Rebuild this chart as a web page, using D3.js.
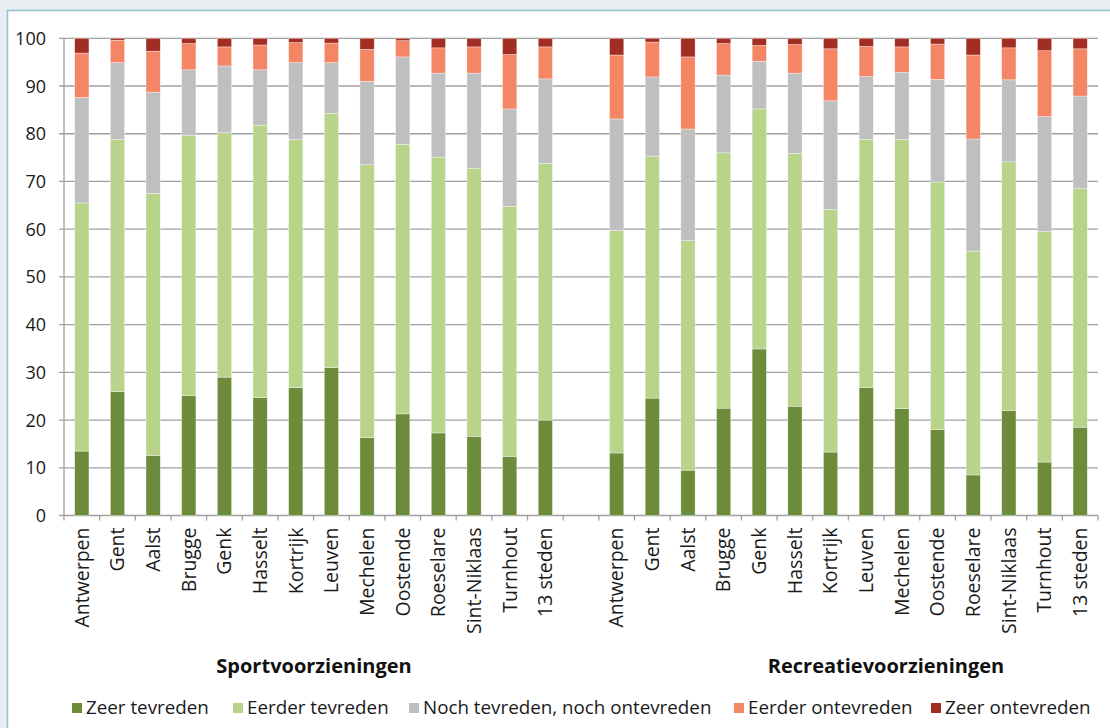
<!DOCTYPE html>
<html>
<head>
<meta charset="utf-8">
<script src="https://cdn.jsdelivr.net/npm/d3@7"></script>
<style>
  body { margin: 0; background: #e9eef2; }
  svg { display: block; font-family: "Open Sans", sans-serif; }
</style>
</head>
<body>
<svg id="chart" width="1110" height="728"></svg>
<script>
const cities = ["Antwerpen", "Gent", "Aalst", "Brugge", "Genk", "Hasselt", "Kortrijk",
  "Leuven", "Mechelen", "Oostende", "Roeselare", "Sint-Niklaas", "Turnhout", "13 steden"];

const groups = ["Sportvoorzieningen", "Recreatievoorzieningen"];

const seriesNames = ["Zeer tevreden", "Eerder tevreden", "Noch tevreden, noch ontevreden",
  "Eerder ontevreden", "Zeer ontevreden"];

const colors = ["#6d8c3b", "#b8d38a", "#bfbfbf", "#f48565", "#a22d22"];

// Sportvoorzieningen, per city (same order as cities)
const sportZeerTevreden   = [13.5, 26.0, 12.6, 25.1, 29.0, 24.7, 26.8, 31.0, 16.3, 21.3, 17.3, 16.6, 12.4, 20.0];
const sportEerderTevreden = [52.0, 52.8, 54.9, 54.6, 51.2, 57.1, 52.0, 53.3, 57.2, 56.5, 57.8, 56.1, 52.4, 53.8];
const sportNoch           = [22.1, 16.1, 21.2, 13.7, 14.0, 11.6, 16.1, 10.6, 17.5, 18.3, 17.6, 20.0, 20.4, 17.7];
const sportEerderOntevr   = [ 9.3,  4.7,  8.6,  5.5,  4.0,  5.2,  4.2,  4.1,  6.7,  3.4,  5.3,  5.5, 11.4,  6.7];
const sportZeerOntevr     = [ 3.1,  0.4,  2.7,  1.1,  1.8,  1.4,  0.9,  1.0,  2.3,  0.5,  2.0,  1.8,  3.4,  1.8];

// Recreatievoorzieningen
const recZeerTevreden   = [13.1, 24.6,  9.5, 22.5, 34.9, 22.9, 13.3, 26.8, 22.4, 18.0,  8.5, 22.0, 11.2, 18.5];
const recEerderTevreden = [46.6, 50.7, 48.1, 53.5, 50.3, 53.0, 50.8, 52.0, 56.4, 51.9, 46.9, 52.1, 48.3, 50.0];
const recNoch           = [23.4, 16.6, 23.4, 16.3, 10.0, 16.8, 22.8, 13.2, 14.1, 21.5, 23.5, 17.2, 24.1, 19.4];
const recEerderOntevr   = [13.4,  7.3, 15.1,  6.6,  3.3,  6.0, 10.9,  6.3,  5.3,  7.4, 17.6,  6.7, 13.8,  9.9];
const recZeerOntevr     = [ 3.5,  0.8,  3.9,  1.1,  1.5,  1.3,  2.2,  1.7,  1.8,  1.2,  3.5,  2.0,  2.6,  2.2];

const yTicks = [0, 10, 20, 30, 40, 50, 60, 70, 80, 90, 100];

const sportSeries = [sportZeerTevreden, sportEerderTevreden, sportNoch, sportEerderOntevr, sportZeerOntevr];
const recSeries = [recZeerTevreden, recEerderTevreden, recNoch, recEerderOntevr, recZeerOntevr];

// build rows: sport cities, an empty slot, recreation cities
const rows = [];
cities.forEach((c, i) => {
  const r = { key: "S|" + c, label: c };
  seriesNames.forEach((s, j) => r[s] = sportSeries[j][i]);
  rows.push(r);
});
const gapRow = { key: "gap", label: "" };
seriesNames.forEach(s => gapRow[s] = 0);
rows.push(gapRow);
cities.forEach((c, i) => {
  const r = { key: "R|" + c, label: c };
  seriesNames.forEach((s, j) => r[s] = recSeries[j][i]);
  rows.push(r);
});

const svg = d3.select("#chart");

// white panel with blue border
svg.append("rect")
  .attr("x", 7.5).attr("y", 10.5)
  .attr("width", 1130).attr("height", 740)
  .attr("fill", "#fff")
  .attr("stroke", "#93bfd2")
  .attr("stroke-width", 1.5);

const plotLeft = 64, plotRight = 1098, plotTop = 38.3, plotBottom = 515.5;

const x = d3.scaleBand()
  .domain(rows.map(d => d.key))
  .range([plotLeft, plotRight])
  .paddingInner(0.6)
  .paddingOuter(0.3);

const y = d3.scaleLinear().domain([0, 100]).range([plotBottom, plotTop]);

// gridlines
svg.append("g")
  .selectAll("line")
  .data(yTicks)
  .join("line")
  .attr("x1", plotLeft - 5)
  .attr("x2", plotRight)
  .attr("y1", d => y(d))
  .attr("y2", d => y(d))
  .attr("stroke", "#a0a0a0")
  .attr("stroke-width", 1.3);

// y axis line
svg.append("line")
  .attr("x1", plotLeft).attr("x2", plotLeft)
  .attr("y1", plotTop).attr("y2", plotBottom)
  .attr("stroke", "#a0a0a0")
  .attr("stroke-width", 1.3);

svg.append("g")
  .selectAll("text")
  .data(yTicks)
  .join("text")
  .attr("x", 46)
  .attr("y", d => y(d))
  .attr("dy", "0.36em")
  .attr("text-anchor", "end")
  .attr("font-size", 18)
  .attr("fill", "#1a1a1a")
  .text(d => d);

// x ticks at slot boundaries
const step = x.step();
const boundaries = d3.range(rows.length + 1).map(i => plotLeft + i * step);
svg.append("g")
  .selectAll("line")
  .data(boundaries)
  .join("line")
  .attr("x1", d => d).attr("x2", d => d)
  .attr("y1", plotBottom).attr("y2", plotBottom + 5)
  .attr("stroke", "#a0a0a0")
  .attr("stroke-width", 1.3);

// stacked bars
const stacked = d3.stack().keys(seriesNames)(rows);

svg.append("g")
  .selectAll("g")
  .data(stacked)
  .join("g")
  .attr("fill", (d, i) => colors[i])
  .selectAll("rect")
  .data(d => d.filter(p => p.data.key !== "gap"))
  .join("rect")
  .attr("x", d => x(d.data.key))
  .attr("width", x.bandwidth())
  .attr("y", d => y(d[1]))
  .attr("height", d => Math.max(0, y(d[0]) - y(d[1])))
  .attr("stroke", "#ffffff")
  .attr("stroke-opacity", 0.6)
  .attr("stroke-width", 0.6);

// category labels
svg.append("g")
  .selectAll("text")
  .data(rows.filter(d => d.key !== "gap"))
  .join("text")
  .attr("transform", d => `translate(${x(d.key) + x.bandwidth() / 2}, ${plotBottom + 12}) rotate(-90)`)
  .attr("dy", "0.35em")
  .attr("text-anchor", "end")
  .attr("font-size", 19.5)
  .attr("fill", "#1a1a1a")
  .text(d => d.label);

// group titles
const groupX = [314, 886];
svg.append("g")
  .selectAll("text")
  .data(groups)
  .join("text")
  .attr("x", (d, i) => groupX[i])
  .attr("y", 673)
  .attr("text-anchor", "middle")
  .attr("font-size", 20)
  .attr("font-weight", "bold")
  .attr("fill", "#111")
  .text(d => d);

// legend
const legendX = [72, 233, 409, 734, 931];
const legend = svg.append("g")
  .selectAll("g")
  .data(seriesNames)
  .join("g")
  .attr("transform", (d, i) => `translate(${legendX[i]}, 703)`);

legend.append("rect")
  .attr("width", 10).attr("height", 10)
  .attr("fill", (d, i) => colors[i]);

legend.append("text")
  .attr("x", 14)
  .attr("y", 10.5)
  .attr("font-size", 18.8)
  .attr("fill", "#1a1a1a")
  .text(d => d);
</script>
</body>
</html>
